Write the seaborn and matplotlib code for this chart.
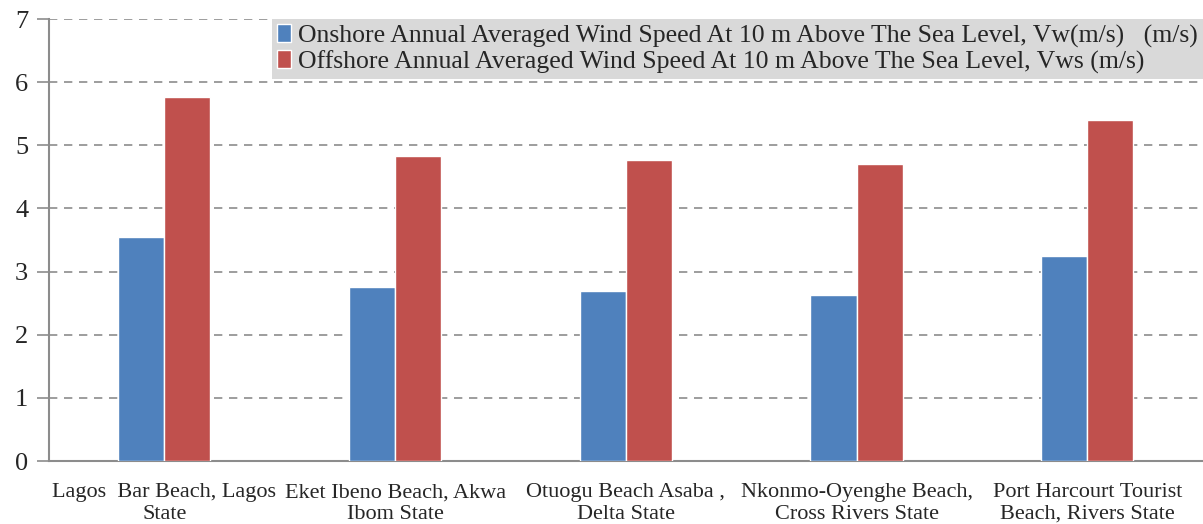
import matplotlib
matplotlib.use('Agg')
import matplotlib.pyplot as plt
import seaborn as sns
import pandas as pd

# Данные с графика
locations = [
    'Lagos  Bar Beach, Lagos\nState',
    'Eket Ibeno Beach, Akwa\nIbom State',
    'Otuogu Beach Asaba ,\nDelta State',
    'Nkonmo-Oyenghe Beach,\nCross Rivers State',
    'Port Harcourt Tourist\nBeach, Rivers State',
]
onshore = [3.55, 2.75, 2.70, 2.63, 3.24]
offshore = [5.77, 4.83, 4.77, 4.70, 5.40]
series_names = [
    'Onshore Annual Averaged Wind Speed At 10 m Above The Sea Level, Vw(m/s)   (m/s)',
    'Offshore Annual Averaged Wind Speed At 10 m Above The Sea Level, Vws (m/s)',
]
colors = ['#4F81BD', '#C0504D']

df = pd.DataFrame({
    'location': locations * 2,
    'value': onshore + offshore,
    'series': [series_names[0]] * len(locations) + [series_names[1]] * len(locations),
})

sns.set_style('white')
plt.rcParams['font.family'] = ['Liberation Serif', 'DejaVu Serif']

fig = plt.figure(figsize=(12.03, 5.24), dpi=100)
ax = fig.add_axes([0.0407, 0.1202, 0.959, 0.8435])

sns.barplot(data=df, x='location', y='value', hue='series',
            palette=colors, width=0.4, saturation=1, ax=ax, zorder=3)

ax.set_ylim(0, 7)
ax.set_yticks(range(0, 8))
ax.set_xlim(-0.5, len(locations) - 0.5)
ax.yaxis.grid(True, linestyle=(0, (5, 4)), color='#8c8c8c', linewidth=1.2, zorder=0)
ax.set_axisbelow(True)
ax.set_xlabel('')
ax.set_ylabel('')

for side in ['top', 'right']:
    ax.spines[side].set_visible(False)
for side in ['left', 'bottom']:
    ax.spines[side].set_color('#8c8c8c')
    ax.spines[side].set_linewidth(1.5)

ax.tick_params(axis='y', length=9, width=1.2, color='#8c8c8c', labelsize=19, pad=6, direction='out', left=True)
ax.tick_params(axis='x', length=0, labelsize=16, pad=16)
for lbl in ax.get_xticklabels():
    lbl.set_linespacing(1.2)

leg = ax.legend(loc='upper right', bbox_to_anchor=(1.0, 1.0), borderaxespad=0,
                frameon=True, fancybox=False, fontsize=18.5, handlelength=0.55,
                handleheight=0.7, handletextpad=0.25, labelspacing=0.1,
                borderpad=0.2)
leg.get_frame().set_facecolor('#D9D9D9')
leg.get_frame().set_edgecolor('none')
leg.get_frame().set_alpha(1)

fig.savefig('out.png', dpi=100)
plt.close(fig)
